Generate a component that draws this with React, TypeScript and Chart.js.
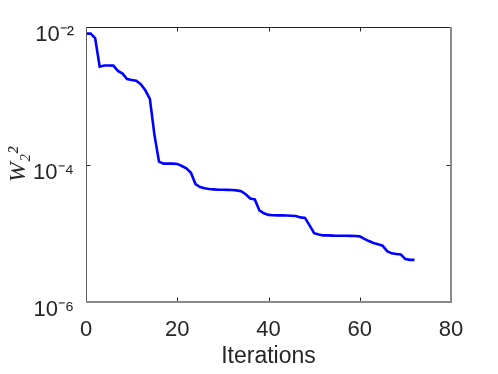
import React, { useEffect, useRef } from "react";
import { Chart, registerables } from "chart.js";

Chart.register(...registerables);

const iterations = [
  0, 1, 2, 3, 4, 5, 6, 7, 8, 9, 10, 11, 12, 13, 14, 15, 16, 17, 18, 19, 20,
  21, 22, 23, 24, 25, 26, 27, 28, 29, 30, 31, 32, 33, 34, 35, 36, 37, 38, 39,
  40, 41, 42, 43, 44, 45, 46, 47, 48, 49, 50, 51, 52, 53, 54, 55, 56, 57, 58,
  59, 60, 61, 62, 63, 64, 65, 66, 67, 68, 69, 70, 71, 72,
];

const w2Values = [
  8.0e-3, 8.0e-3, 6.9e-3, 2.65e-3, 2.75e-3, 2.75e-3, 2.74e-3, 2.3e-3, 2.1e-3,
  1.75e-3, 1.7e-3, 1.65e-3, 1.47e-3, 1.2e-3, 9.0e-4, 2.7e-4, 1.1e-4, 1.03e-4,
  1.03e-4, 1.03e-4, 1.02e-4, 9.5e-5, 8.8e-5, 7.6e-5, 5.2e-5, 4.7e-5, 4.5e-5,
  4.4e-5, 4.35e-5, 4.3e-5, 4.3e-5, 4.28e-5, 4.25e-5, 4.2e-5, 4.1e-5, 3.7e-5,
  3.2e-5, 3.1e-5, 2.15e-5, 1.95e-5, 1.85e-5, 1.83e-5, 1.82e-5, 1.82e-5,
  1.81e-5, 1.8e-5, 1.78e-5, 1.7e-5, 1.67e-5, 1.3e-5, 1.0e-5, 9.6e-6, 9.3e-6,
  9.3e-6, 9.25e-6, 9.2e-6, 9.2e-6, 9.2e-6, 9.15e-6, 9.1e-6, 9.0e-6, 8.3e-6,
  7.7e-6, 7.2e-6, 6.9e-6, 6.6e-6, 5.5e-6, 5.1e-6, 5.0e-6, 4.9e-6, 4.2e-6,
  4.1e-6, 4.1e-6,
];

const xTicks = [0, 20, 40, 60, 80];
const yTicks = [1e-6, 1e-4, 1e-2];
const yTickLabels = ["10\u207B\u2076", "10\u207B\u2074", "10\u207B\u00B2"];

const xTitle = "Iterations";
const yTitle = "W\u2082\u00B2";

const boxPlugin = {
  id: "matlabBox",
  afterDraw(chart: any) {
    const { ctx, chartArea, scales } = chart;
    const { left, right, top, bottom } = chartArea;
    const x = scales.x;
    const y = scales.y;
    ctx.save();
    ctx.strokeStyle = "#262626";
    ctx.lineWidth = 1;
    const tl = 4.5;
    x.ticks.forEach((_t: any, i: number) => {
      const px = Math.round(x.getPixelForTick(i)) + 0.5;
      ctx.beginPath();
      ctx.moveTo(px, bottom);
      ctx.lineTo(px, bottom - tl);
      ctx.moveTo(px, top);
      ctx.lineTo(px, top + tl);
      ctx.stroke();
    });
    y.ticks.forEach((_t: any, i: number) => {
      const py = Math.round(y.getPixelForTick(i)) + 0.5;
      ctx.beginPath();
      ctx.moveTo(left, py);
      ctx.lineTo(left + tl, py);
      ctx.moveTo(right, py);
      ctx.lineTo(right - tl, py);
      ctx.stroke();
    });
    ctx.lineWidth = 1;
    ctx.strokeStyle = "#262626";
    ctx.beginPath();
    ctx.moveTo(left, top + 0.5);
    ctx.lineTo(right, top + 0.5);
    ctx.stroke();
    ctx.strokeStyle = "#5a5a5a";
    ctx.beginPath();
    ctx.moveTo(left + 0.5, top);
    ctx.lineTo(left + 0.5, bottom);
    ctx.stroke();
    ctx.lineWidth = 2;
    ctx.strokeStyle = "#8a8a8a";
    ctx.beginPath();
    ctx.moveTo(right, top);
    ctx.lineTo(right, bottom + 1);
    ctx.moveTo(left, bottom);
    ctx.lineTo(right + 1, bottom);
    ctx.stroke();
    ctx.restore();
  },
};

export default function App() {
  const canvasRef = useRef<HTMLCanvasElement | null>(null);

  useEffect(() => {
    const canvas = canvasRef.current;
    if (!canvas) return;
    Chart.defaults.font.family = "'Liberation Sans', Arial, sans-serif";
    Chart.defaults.color = "#262626";
    const chart = new Chart(canvas, {
      type: "line",
      data: {
        datasets: [
          {
            data: iterations.map((it, i) => ({ x: it, y: w2Values[i] })),
            borderColor: "#0000ff",
            backgroundColor: "#0000ff",
            borderWidth: 2.6,
            pointRadius: 0,
            tension: 0,
            fill: false,
          },
        ],
      },
      options: {
        responsive: false,
        animation: false,
        layout: { padding: { top: 27, right: 47, left: 0, bottom: 0 } },
        plugins: {
          legend: { display: false },
          tooltip: { enabled: false },
        },
        scales: {
          x: {
            type: "linear",
            min: 0,
            max: 80,
            afterBuildTicks: (scale: any) => {
              scale.ticks = xTicks.map((v) => ({ value: v }));
            },
            afterFit: (scale: any) => {
              scale.height = 72;
            },
            grid: { display: false },
            border: { display: false },
            ticks: {
              font: { size: 22 },
              color: "#262626",
              padding: 7,
              maxRotation: 0,
              callback: (v: any) => String(v),
            },
            title: {
              display: true,
              text: xTitle,
              font: { size: 23 },
              color: "#262626",
              padding: { top: 0, bottom: 4 },
            },
          },
          y: {
            type: "logarithmic",
            min: 1e-6,
            max: 1e-2,
            afterBuildTicks: (scale: any) => {
              scale.ticks = yTicks.map((v) => ({ value: v }));
            },
            afterFit: (scale: any) => {
              scale.width = 86;
            },
            grid: { display: false },
            border: { display: false },
            ticks: {
              font: { size: 22 },
              color: "#262626",
              padding: 4,
              labelOffset: 8,
              callback: (v: any) => {
                const idx = yTicks.findIndex((t) => Math.abs(Math.log10(t) - Math.log10(v)) < 1e-6);
                return idx >= 0 ? yTickLabels[idx] : "";
              },
            },
            title: {
              display: true,
              text: yTitle,
              font: { size: 24, style: "italic", family: "'Liberation Serif', 'DejaVu Serif', serif" },
              color: "#262626",
              padding: { top: 4, bottom: 0 },
            },
          },
        },
      },
      plugins: [boxPlugin],
    });
    return () => chart.destroy();
  }, []);

  return (
    <div style={{ position: "fixed", left: 0, top: 0, width: 498, height: 374, background: "#fff" }}>
      <canvas ref={canvasRef} width={498} height={374} style={{ display: "block" }} />
    </div>
  );
}
